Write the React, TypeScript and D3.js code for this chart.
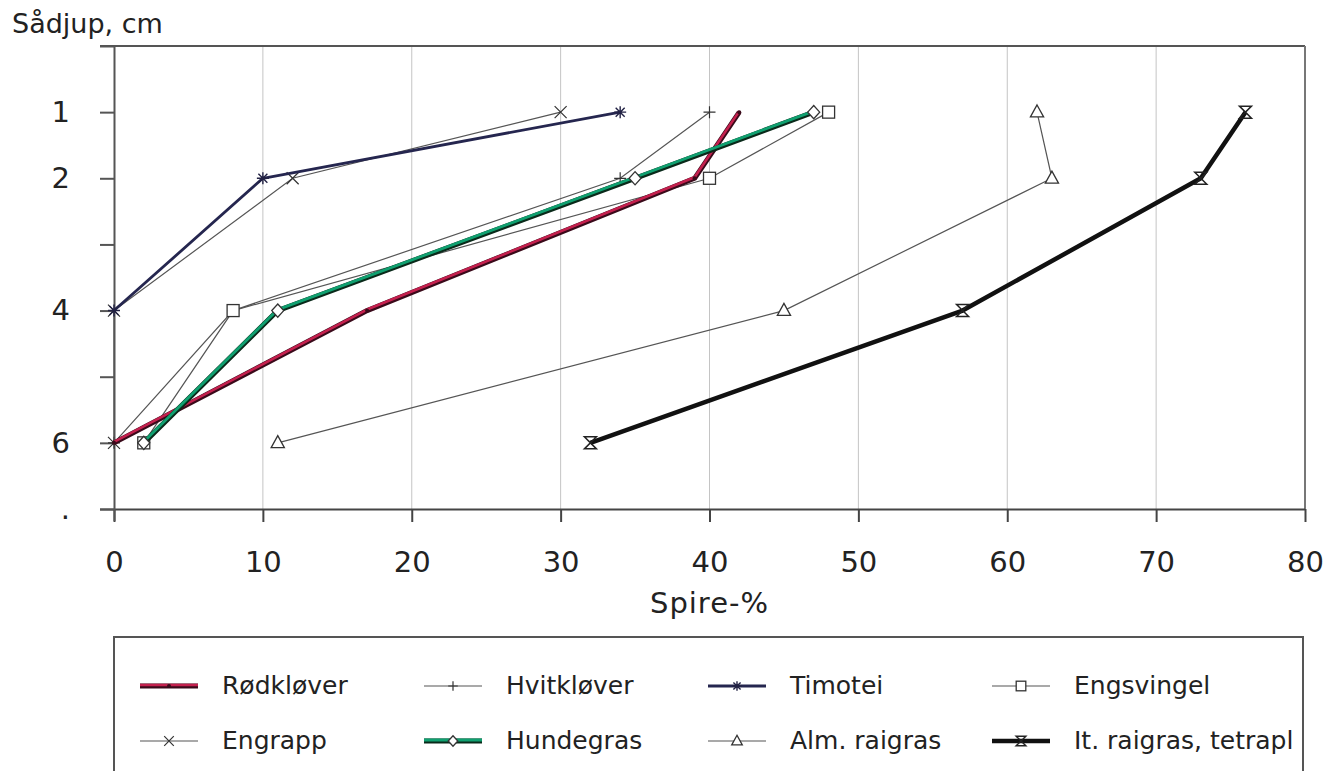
import React, { useEffect, useRef } from 'react';
import * as d3 from 'd3';

// sowing depth (cm) and germination (%) per species
const depths = [1, 2, 4, 6];
const rodklover = [42, 39, 17, 0];
const hvitklover = [40, 34, 8, 0];
const timotei = [34, 10, 0, NaN];
const engsvingel = [48, 40, 8, 2];
const engrapp = [30, 12, 0, 0];
const hundegras = [47, 35, 11, 2];
const almRaigras = [62, 63, 45, 11];
const itRaigras = [76, 73, 57, 32];

const xTicks = [0, 10, 20, 30, 40, 50, 60, 70, 80];
const yTicks = [0, 1, 2, 3, 4, 5, 6, 7];
const yTickLabels = ['', '1', '2', '', '4', '', '6', '.'];

const series = [
  { name: 'Rødkløver', values: rodklover, kind: 'red', marker: 'dot' },
  { name: 'Hvitkløver', values: hvitklover, kind: 'thin', marker: 'plus' },
  { name: 'Timotei', values: timotei, kind: 'navy', marker: 'star' },
  { name: 'Engsvingel', values: engsvingel, kind: 'thin', marker: 'square' },
  { name: 'Engrapp', values: engrapp, kind: 'thin', marker: 'cross' },
  { name: 'Hundegras', values: hundegras, kind: 'green', marker: 'diamond' },
  { name: 'Alm. raigras', values: almRaigras, kind: 'thin', marker: 'triangle' },
  { name: 'It. raigras, tetrapl', values: itRaigras, kind: 'black', marker: 'hourglass' },
];

const FONT = '"DejaVu Sans", "Liberation Sans", sans-serif';

const drawMarker = (g, type, x, y, scale = 1) => {
  const s = 6 * scale;
  const grp = g.append('g').attr('transform', `translate(${x},${y})`);
  const stroke = '#333';
  if (type === 'dot') {
    grp.append('circle').attr('r', 2).attr('fill', '#3a0a1a');
  } else if (type === 'plus') {
    grp.append('path').attr('d', `M${-s},0H${s}M0,${-s}V${s}`).attr('stroke', stroke).attr('stroke-width', 1.2);
  } else if (type === 'cross') {
    grp.append('path').attr('d', `M${-s},${-s}L${s},${s}M${-s},${s}L${s},${-s}`).attr('stroke', stroke).attr('stroke-width', 1.2);
  } else if (type === 'star') {
    grp.append('path')
      .attr('d', `M${-s},0H${s}M0,${-s}V${s}M${-s * 0.75},${-s * 0.75}L${s * 0.75},${s * 0.75}M${-s * 0.75},${s * 0.75}L${s * 0.75},${-s * 0.75}`)
      .attr('stroke', '#222244').attr('stroke-width', 1.4);
  } else if (type === 'square') {
    grp.append('rect').attr('x', -s).attr('y', -s).attr('width', 2 * s).attr('height', 2 * s)
      .attr('fill', 'white').attr('stroke', stroke).attr('stroke-width', 1.3);
  } else if (type === 'diamond') {
    grp.append('path').attr('d', `M0,${-s * 1.1}L${s},0L0,${s * 1.1}L${-s},0Z`)
      .attr('fill', 'white').attr('stroke', stroke).attr('stroke-width', 1.3);
  } else if (type === 'triangle') {
    grp.append('path').attr('d', `M0,${-s * 1.2}L${s * 1.1},${s * 0.8}L${-s * 1.1},${s * 0.8}Z`)
      .attr('fill', 'white').attr('stroke', stroke).attr('stroke-width', 1.3);
  } else if (type === 'hourglass') {
    grp.append('path').attr('d', `M${-s},${-s}H${s}L${-s},${s}H${s}Z`)
      .attr('fill', 'none').attr('stroke', '#222').attr('stroke-width', 1.5);
  }
};

// draws a line in the style of the series, on points already in pixels
const drawStyledLine = (g, kind, d) => {
  if (kind === 'red') {
    g.append('path').attr('d', d).attr('fill', 'none').attr('stroke', '#3a0a1a').attr('stroke-width', 5).attr('stroke-linejoin', 'round');
    g.append('path').attr('d', d).attr('fill', 'none').attr('stroke', '#c4204e').attr('stroke-width', 2.6)
      .attr('transform', 'translate(0,-1)').attr('stroke-linejoin', 'round');
  } else if (kind === 'green') {
    g.append('path').attr('d', d).attr('fill', 'none').attr('stroke', '#0a2a1a').attr('stroke-width', 5).attr('stroke-linejoin', 'round');
    g.append('path').attr('d', d).attr('fill', 'none').attr('stroke', '#10a070').attr('stroke-width', 2.8)
      .attr('transform', 'translate(0,-1)').attr('stroke-linejoin', 'round');
  } else if (kind === 'navy') {
    g.append('path').attr('d', d).attr('fill', 'none').attr('stroke', '#25264f').attr('stroke-width', 2.8).attr('stroke-linejoin', 'round');
  } else if (kind === 'black') {
    g.append('path').attr('d', d).attr('fill', 'none').attr('stroke', '#111').attr('stroke-width', 4.5).attr('stroke-linejoin', 'round');
  } else {
    g.append('path').attr('d', d).attr('fill', 'none').attr('stroke', '#555').attr('stroke-width', 1.2);
  }
};

const App = () => {
  const svgRef = useRef(null);

  useEffect(() => {
    const svg = d3.select(svgRef.current);
    svg.selectAll('*').remove();

    const left = 114;
    const right = 1305;
    const top = 46;
    const bottom = 509;

    const x = d3.scaleLinear().domain([0, 80]).range([left, right]);
    const y = d3.scaleLinear().domain([0, 7]).range([top, bottom]);

    // vertical grid lines
    svg.append('g')
      .selectAll('line')
      .data(xTicks.filter(t => t > 0 && t < 80))
      .enter().append('line')
      .attr('x1', d => x(d)).attr('x2', d => x(d))
      .attr('y1', top).attr('y2', bottom)
      .attr('stroke', '#c4c4c4').attr('stroke-width', 1);

    // frame: top and right border
    svg.append('line').attr('x1', left - 14).attr('x2', right).attr('y1', top).attr('y2', top)
      .attr('stroke', '#555').attr('stroke-width', 2);
    svg.append('line').attr('x1', right).attr('x2', right).attr('y1', top).attr('y2', bottom)
      .attr('stroke', '#777').attr('stroke-width', 2);

    // x axis
    const xAxis = d3.axisBottom(x).tickValues(xTicks).tickSize(13).tickSizeOuter(0).tickPadding(29);
    const gx = svg.append('g').attr('transform', `translate(0,${bottom})`).call(xAxis);
    gx.select('.domain').attr('d', `M${left - 14},0.5H${right}`).attr('stroke', '#444').attr('stroke-width', 2);
    gx.selectAll('.tick line').attr('stroke', '#444').attr('stroke-width', 2);
    gx.selectAll('text').attr('font-family', FONT).attr('font-size', 29).attr('fill', '#222');

    // y axis
    const yAxis = d3.axisLeft(y).tickValues(yTicks).tickSize(14).tickSizeOuter(0).tickPadding(30)
      .tickFormat((d, i) => yTickLabels[i]);
    const gy = svg.append('g').attr('transform', `translate(${left},0)`).call(yAxis);
    gy.select('.domain').attr('d', `M0.5,${top}V${bottom + 12}`).attr('stroke', '#555').attr('stroke-width', 2);
    gy.selectAll('.tick line').attr('stroke', '#555').attr('stroke-width', 2);
    gy.selectAll('text').attr('font-family', FONT).attr('font-size', 29).attr('fill', '#222');

    // axis titles
    svg.append('text').attr('x', 12).attr('y', 33).text('Sådjup, cm')
      .attr('font-family', FONT).attr('font-size', 27).attr('fill', '#222');
    svg.append('text').attr('x', (left + right) / 2).attr('y', 613).text('Spire-%')
      .attr('text-anchor', 'middle').attr('font-family', FONT).attr('font-size', 29)
      .attr('letter-spacing', 1).attr('fill', '#222');

    // series, thin lines first, thick lines on top
    const order = ['thin', 'navy', 'red', 'green', 'black'];
    const plot = svg.append('g');
    const lineGen = d3.line().defined(p => !isNaN(p[0])).x(p => x(p[0])).y(p => y(p[1]));
    order.forEach(kind => {
      series.filter(s => s.kind === kind).forEach(s => {
        const pts = s.values.map((v, i) => [v, depths[i]]);
        const g = plot.append('g');
        drawStyledLine(g, s.kind, lineGen(pts));
        pts.filter(p => !isNaN(p[0])).forEach(p => drawMarker(g, s.marker, x(p[0]), y(p[1])));
      });
    });

    // legend
    const legend = svg.append('g');
    legend.append('path').attr('d', `M${left},790V637H${right - 2}V790`)
      .attr('fill', 'none').attr('stroke', '#555').attr('stroke-width', 2);
    const colX = [140, 424, 708, 992];
    const rowY = [686, 741];
    series.forEach((s, i) => {
      const cx = colX[i % 4];
      const cy = rowY[Math.floor(i / 4)];
      const g = legend.append('g');
      drawStyledLine(g, s.kind, `M${cx},${cy}H${cx + 58}`);
      drawMarker(g, s.marker, cx + 29, cy, 0.8);
      g.append('text').attr('x', cx + 82).attr('y', cy + 8).text(s.name)
        .attr('font-family', FONT).attr('font-size', 25).attr('fill', '#222');
    });
    // clip the legend text at the frame like the original
    legend.append('rect').attr('x', right - 1).attr('y', 640).attr('width', 30).attr('height', 140).attr('fill', 'white');
    legend.append('line').attr('x1', right - 2).attr('x2', right - 2).attr('y1', 637).attr('y2', 790)
      .attr('stroke', '#555').attr('stroke-width', 2);
  }, []);

  return (
    <svg ref={svgRef} width={1328} height={771}
      style={{ position: 'absolute', left: 0, top: 0, background: 'white' }}></svg>
  );
};

export default App;
